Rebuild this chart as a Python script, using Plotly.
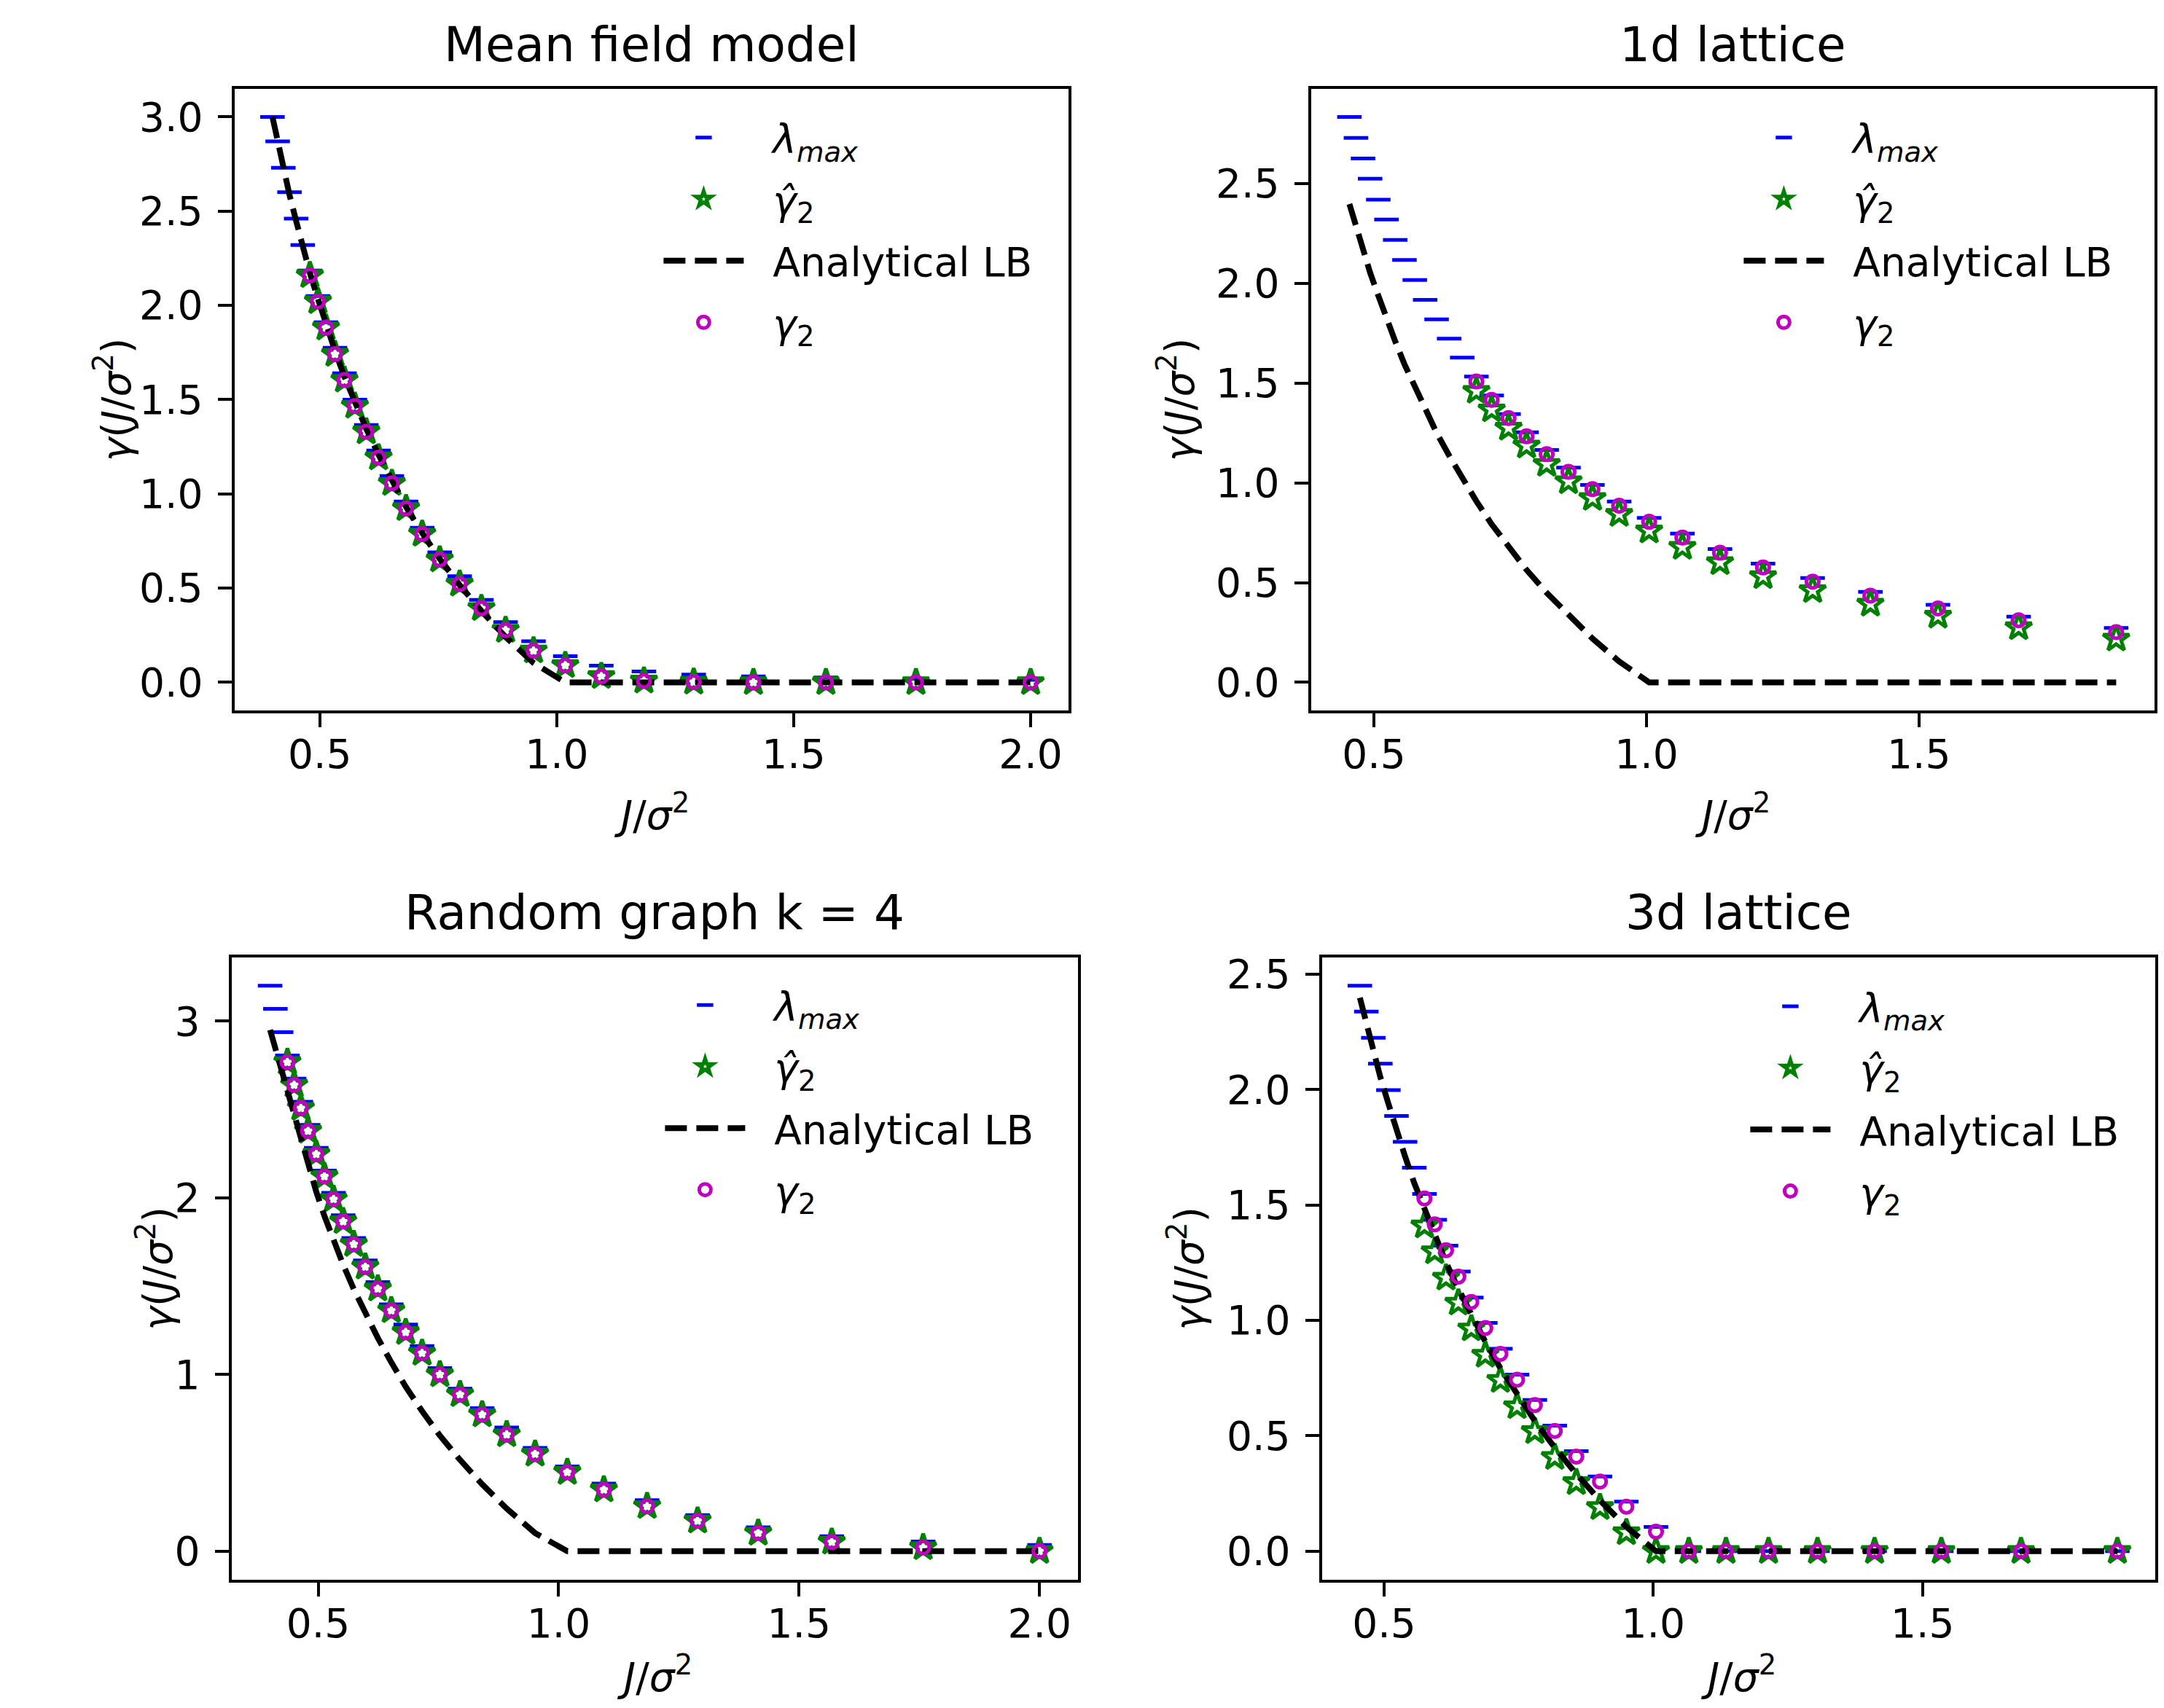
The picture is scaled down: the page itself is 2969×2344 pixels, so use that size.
import plotly.graph_objects as go

# ---------------- data ----------------
x_mf = [0.400, 0.411, 0.423, 0.436, 0.450, 0.464, 0.479, 0.496, 0.513, 0.532,
        0.552, 0.574, 0.598, 0.624, 0.652, 0.682, 0.716, 0.753, 0.795, 0.841,
        0.892, 0.951, 1.018, 1.094, 1.184, 1.289, 1.415, 1.568, 1.758, 2.000]
x_lat = [0.455, 0.467, 0.480, 0.493, 0.508, 0.523, 0.539, 0.556, 0.575, 0.594,
         0.615, 0.638, 0.662, 0.688, 0.716, 0.747, 0.780, 0.817, 0.857, 0.901,
         0.950, 1.005, 1.066, 1.135, 1.214, 1.305, 1.411, 1.535, 1.683, 1.862]

# Mean field model
mf_lmax = [3.00, 2.87, 2.73, 2.60, 2.46, 2.32, 2.185, 2.05, 1.91, 1.775,
           1.64, 1.50, 1.365, 1.23, 1.095, 0.96, 0.82, 0.69, 0.563, 0.438,
           0.32, 0.218, 0.139, 0.089, 0.058, 0.041, 0.032, 0.026, 0.019, 0.013]
mf_x_g = x_mf[6:]
mf_ghat = [2.159, 2.021, 1.881, 1.741, 1.604, 1.466, 1.330, 1.192, 1.056, 0.923,
           0.787, 0.651, 0.522, 0.393, 0.277, 0.168, 0.090, 0.032, 0.008, 0.002,
           0.0, 0.0, 0.0, 0.0]
mf_g2 = [2.159, 2.021, 1.881, 1.741, 1.604, 1.466, 1.330, 1.192, 1.056, 0.923,
         0.787, 0.651, 0.522, 0.393, 0.277, 0.168, 0.090, 0.032, 0.008, 0.002,
         0.0, 0.0, 0.0, 0.0]
mf_lb = [3.0, 2.862, 2.724, 2.586, 2.448, 2.310, 2.172, 2.034, 1.897, 1.759,
         1.621, 1.483, 1.345, 1.207, 1.069, 0.931, 0.793, 0.655, 0.517, 0.379,
         0.241, 0.103, 0.0, 0.0, 0.0, 0.0, 0.0, 0.0, 0.0, 0.0]

# 1d lattice
l1_lmax = [2.835, 2.730, 2.626, 2.525, 2.420, 2.320, 2.218, 2.118, 2.017, 1.918,
           1.820, 1.723, 1.628, 1.533, 1.438, 1.345, 1.254, 1.165, 1.077, 0.990,
           0.907, 0.825, 0.746, 0.668, 0.595, 0.523, 0.454, 0.389, 0.330, 0.273]
l1_x_g = x_lat[13:]
l1_ghat = [1.460, 1.367, 1.275, 1.186, 1.094, 1.007, 0.923, 0.843, 0.760, 0.678,
           0.601, 0.531, 0.461, 0.393, 0.333, 0.275, 0.218]
l1_g2 = [1.509, 1.416, 1.325, 1.234, 1.144, 1.056, 0.969, 0.886, 0.805, 0.726,
         0.650, 0.576, 0.505, 0.435, 0.371, 0.311, 0.252]
l1_lb = [2.398, 2.283, 2.168, 2.054, 1.939, 1.824, 1.710, 1.595, 1.481, 1.366,
         1.251, 1.137, 1.022, 0.908, 0.793, 0.678, 0.564, 0.449, 0.335, 0.220,
         0.105, 0.0, 0.0, 0.0, 0.0, 0.0, 0.0, 0.0, 0.0, 0.0]

# Random graph k = 4
rg_lmax = [3.200, 3.069, 2.937, 2.805, 2.674, 2.543, 2.413, 2.283, 2.154, 2.028,
           1.901, 1.772, 1.646, 1.523, 1.397, 1.283, 1.161, 1.036, 0.920, 0.810,
           0.700, 0.585, 0.480, 0.383, 0.289, 0.205, 0.135, 0.085, 0.055, 0.035]
rg_x_g = x_mf[3:]
rg_ghat = [2.767, 2.638, 2.507, 2.378, 2.247, 2.121, 1.992, 1.866, 1.737, 1.609,
           1.485, 1.362, 1.239, 1.121, 1.000, 0.887, 0.773, 0.660, 0.550, 0.447,
           0.348, 0.254, 0.172, 0.103, 0.052, 0.021, 0.0]
rg_g2 = [2.767, 2.638, 2.507, 2.378, 2.247, 2.121, 1.992, 1.866, 1.737, 1.609,
         1.485, 1.362, 1.239, 1.121, 1.000, 0.887, 0.773, 0.660, 0.550, 0.447,
         0.348, 0.254, 0.172, 0.103, 0.052, 0.021, 0.0]
rg_lb = [2.95, 2.845, 2.724, 2.586, 2.448, 2.310, 2.172, 2.034, 1.897, 1.759,
         1.621, 1.483, 1.345, 1.207, 1.069, 0.931, 0.793, 0.655, 0.517, 0.379,
         0.241, 0.103, 0.0, 0.0, 0.0, 0.0, 0.0, 0.0, 0.0, 0.0]

# 3d lattice
l3_lmax = [2.450, 2.338, 2.224, 2.112, 1.998, 1.886, 1.774, 1.662, 1.548, 1.436,
           1.324, 1.212, 1.099, 0.989, 0.877, 0.765, 0.655, 0.544, 0.434, 0.324,
           0.215, 0.105, 0.0, 0.0, 0.0, 0.0, 0.0, 0.0, 0.0, 0.0]
l3_x_g = x_lat[8:]
l3_ghat = [1.410, 1.298, 1.184, 1.076, 0.964, 0.850, 0.741, 0.627, 0.519, 0.407,
           0.298, 0.190, 0.081, 0.0, 0.0, 0.0, 0.0, 0.0, 0.0, 0.0, 0.0, 0.0]
l3_g2 = [1.528, 1.416, 1.304, 1.190, 1.080, 0.967, 0.855, 0.743, 0.633, 0.521,
         0.410, 0.302, 0.193, 0.085, 0.0, 0.0, 0.0, 0.0, 0.0, 0.0, 0.0, 0.0]
l3_lb = [2.398, 2.283, 2.168, 2.054, 1.939, 1.824, 1.710, 1.595, 1.481, 1.366,
         1.251, 1.137, 1.022, 0.908, 0.793, 0.678, 0.564, 0.449, 0.335, 0.220,
         0.105, 0.0, 0.0, 0.0, 0.0, 0.0, 0.0, 0.0, 0.0, 0.0]

titles = ["Mean field model", "1d lattice", "Random graph k = 4", "3d lattice"]
x_ticks_mf = [0.5, 1.0, 1.5, 2.0]
x_ticks_lat = [0.5, 1.0, 1.5]
y_ticks_p1 = [0.0, 0.5, 1.0, 1.5, 2.0, 2.5, 3.0]
y_ticks_p2 = [0.0, 0.5, 1.0, 1.5, 2.0, 2.5]
y_ticks_p3 = [0, 1, 2, 3]
y_ticks_p4 = [0.0, 0.5, 1.0, 1.5, 2.0, 2.5]

names = ["\u00a0\u00a0<i>λ</i><sub><i>max</i></sub>",
         "\u00a0\u00a0<i>γ\u0302</i><sub>2</sub>",
         "\u00a0\u00a0Analytical LB",
         "\u00a0\u00a0<i>γ</i><sub>2</sub>"]

# ---------------- styling / layout ----------------
PAGE_OFF = 8                      # default body margin of the html page
W, H = 2969 - 2 * PAGE_OFF, 2344 - 2 * PAGE_OFF
FONT = "DejaVu Sans"
BLUE, GREEN, MAG = "#0000ff", "#008000", "#bf00bf"


def px(xp):   # page pixel -> paper fraction (x)
    return (xp - PAGE_OFF) / W


def py(yp):   # page pixel -> paper fraction (y)
    return 1 - (yp - PAGE_OFF) / H


# axes boxes in page pixels: (left, right, top, bottom)
boxes = [(322, 1467, 113, 970), (1800, 2958, 113, 970),
         (318, 1480, 1310, 2167), (1815, 2959, 1310, 2167)]

panels = [
    dict(x=x_mf, lmax=mf_lmax, xg=mf_x_g, ghat=mf_ghat, g2=mf_g2, lb=mf_lb,
         xt=x_ticks_mf, yt=y_ticks_p1, yfmt=".1f"),
    dict(x=x_lat, lmax=l1_lmax, xg=l1_x_g, ghat=l1_ghat, g2=l1_g2, lb=l1_lb,
         xt=x_ticks_lat, yt=y_ticks_p2, yfmt=".1f"),
    dict(x=x_mf, lmax=rg_lmax, xg=rg_x_g, ghat=rg_ghat, g2=rg_g2, lb=rg_lb,
         xt=x_ticks_mf, yt=y_ticks_p3, yfmt="d"),
    dict(x=x_lat, lmax=l3_lmax, xg=l3_x_g, ghat=l3_ghat, g2=l3_g2, lb=l3_lb,
         xt=x_ticks_lat, yt=y_ticks_p4, yfmt=".1f"),
]

# legend anchor (page px): left, top
legend_pos = [(906, 138), (2389, 138), (908, 1333), (2398, 1335)]
title_y = [53, 53, 1248, 1248]
ylabel_x = [156, 1616, 213, 1629]

fig = go.Figure()
layout = dict(width=W, height=H, margin=dict(l=0, r=0, t=0, b=0),
              paper_bgcolor="white", plot_bgcolor="white",
              font=dict(family=FONT, size=55, color="black"),
              showlegend=True, annotations=[])


def pad(vals):
    lo, hi = min(vals), max(vals)
    d = (hi - lo) * 0.05
    return [lo - d, hi + d]


for i, p in enumerate(panels):
    n = "" if i == 0 else str(i + 1)
    xa, ya = "x" + n, "y" + n
    lg = "legend" + n
    common = dict(xaxis=xa, yaxis=ya, legend=lg)
    fig.add_trace(go.Scatter(x=p["x"], y=p["lmax"], mode="markers", name=names[0],
                             legendgroup=f"a{i}",
                             marker=dict(symbol="line-ew", size=24, color=BLUE,
                                         line=dict(color=BLUE, width=5)), **common))
    fig.add_trace(go.Scatter(x=p["xg"], y=p["ghat"], mode="markers", name=names[1],
                             legendgroup=f"b{i}",
                             marker=dict(symbol="star-open", size=27, color=GREEN,
                                         line=dict(color=GREEN, width=5)), **common))
    fig.add_trace(go.Scatter(x=p["x"], y=p["lb"], mode="lines", name=names[2],
                             legendgroup=f"c{i}",
                             line=dict(color="black", width=8, dash="30px,13px"),
                             **common))
    fig.add_trace(go.Scatter(x=p["xg"], y=p["g2"], mode="markers", name=names[3],
                             legendgroup=f"d{i}",
                             marker=dict(symbol="circle-open", size=17, color=MAG,
                                         line=dict(color=MAG, width=5)), **common))

    l, r, t, b = boxes[i]
    axis_common = dict(showline=True, mirror=True, linecolor="black", linewidth=4.4,
                       ticks="outside", ticklen=19, tickwidth=4.4, tickcolor="black",
                       showgrid=False, zeroline=False,
                       tickfont=dict(family=FONT, size=55, color="black"))
    allx = p["x"]
    ally = p["lmax"] + p["ghat"] + p["g2"] + p["lb"]
    layout["xaxis" + n] = dict(domain=[px(l), px(r)], anchor=ya, range=pad(allx),
                               tickvals=p["xt"], tickformat=".1f",
                               ticklabelstandoff=-10, **axis_common)
    layout["yaxis" + n] = dict(domain=[py(b), py(t)], anchor=xa, range=pad(ally),
                               tickvals=p["yt"], tickformat=p["yfmt"],
                               ticklabelstandoff=9, **axis_common)
    lx, ly = legend_pos[i]
    layout[lg] = dict(x=px(lx), y=py(ly), xanchor="left", yanchor="top",
                      xref="paper", yref="paper",
                      bgcolor="rgba(0,0,0,0)", borderwidth=0,
                      font=dict(family=FONT, size=55, color="black"),
                      itemwidth=110, tracegroupgap=10, traceorder="grouped",
                      itemsizing="trace")

    cx = (l + r) / 2
    layout["annotations"].append(dict(
        text=titles[i], x=px(cx), y=py(title_y[i]), xref="paper", yref="paper",
        xanchor="center", yanchor="middle", showarrow=False,
        font=dict(family=FONT, size=66, color="black")))
    if i < 2:
        xl = dict(y=py(1110), yanchor="middle")
    else:
        xl = dict(y=0.0, yanchor="bottom")
    layout["annotations"].append(dict(
        text="<i>J</i>/<i>σ</i><sup>2</sup>", x=px(cx),
        xref="paper", yref="paper", xanchor="center",
        showarrow=False, font=dict(family=FONT, size=55, color="black"), **xl))
    layout["annotations"].append(dict(
        text="<i>γ</i>(<i>J</i>/<i>σ</i><sup>2</sup>)", x=px(ylabel_x[i]),
        y=py((t + b) / 2), xref="paper", yref="paper",
        xanchor="center", yanchor="middle", textangle=-90,
        showarrow=False, font=dict(family=FONT, size=55, color="black")))

fig.update_layout(**layout)
fig.write_html("out.html")
